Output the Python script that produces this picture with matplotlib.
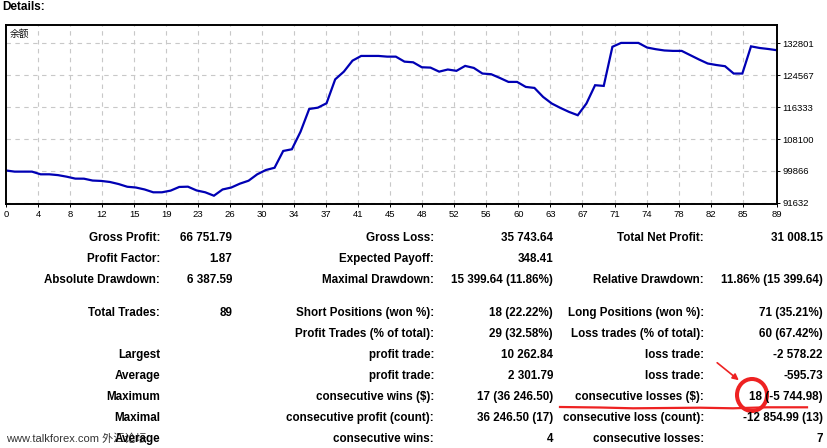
import matplotlib
matplotlib.use("Agg")
import matplotlib.pyplot as plt
from matplotlib.patches import Ellipse, FancyArrowPatch
from matplotlib.lines import Line2D

# ---------------- data ----------------
balance = [100000, 99700, 99700, 99700, 99010, 99010, 98800, 98400, 97900, 97880,
           97400, 97300, 97030, 96500, 95800, 95600, 95100, 94370, 94370, 94800,
           95750, 95820, 94850, 94370, 93490, 95100, 95600, 96600, 97360, 99010,
           100120, 100700, 105030, 105470, 110000, 115860, 116200, 117330, 123500, 125490,
           128330, 129540, 129540, 129540, 129360, 129360, 128070, 127900, 126620, 126530,
           125490, 126040, 125700, 126970, 126450, 125000, 124830, 123870, 122840, 122840,
           121550, 121290, 118970, 117270, 116130, 115100, 114250, 117270, 121990, 121810,
           131900, 132900, 132900, 132900, 131710, 131280, 130950, 130840, 130840, 129730,
           128620, 127590, 127200, 126890, 125000, 125000, 132010, 131590, 131330, 131008]
trades = list(range(len(balance)))

x_tick_labels = ["0", "4", "8", "12", "15", "19", "23", "26", "30", "34", "37", "41", "45",
                 "48", "52", "56", "60", "63", "67", "71", "74", "78", "82", "85", "89"]
y_ticks = [91632, 99866, 108100, 116333, 124567, 132801]

series_label = "余额"
title = "Details:"

col1_labels = ["Gross Profit:", "Profit Factor:", "Absolute Drawdown:", "Total Trades:", "",
               "Largest", "Average", "Maximum", "Maximal", "Average"]
col1_values = ["66 751.79", "1.87", "6 387.59", "89", "", "", "", "", "", ""]
col2_labels = ["Gross Loss:", "Expected Payoff:", "Maximal Drawdown:", "Short Positions (won %):",
               "Profit Trades (% of total):", "profit trade:", "profit trade:",
               "consecutive wins ($):", "consecutive profit (count):", "consecutive wins:"]
col2_values = ["35 743.64", "348.41", "15 399.64 (11.86%)", "18 (22.22%)", "29 (32.58%)",
               "10 262.84", "2 301.79", "17 (36 246.50)", "36 246.50 (17)", "4"]
col3_labels = ["Total Net Profit:", "", "Relative Drawdown:", "Long Positions (won %):",
               "Loss trades (% of total):", "loss trade:", "loss trade:",
               "consecutive losses ($):", "consecutive loss (count):", "consecutive losses:"]
col3_values = ["31 008.15", "", "11.86% (15 399.64)", "71 (35.21%)", "60 (67.42%)",
               "-2 578.22", "-595.73", "18 (-5 744.98)", "-12 854.99 (13)", "7"]
watermark = "www.talkforex.com 外汇论坛"

# ---------------- layout ----------------
W, H = 828, 448
fig = plt.figure(figsize=(W / 100, H / 100), dpi=100)
fig.patch.set_facecolor("white")

def fx(px):
    return px / W

def fy(py):
    return 1 - py / H

ax_left, ax_right, ax_top, ax_bottom = 6, 777, 25, 204
ax = fig.add_axes([fx(ax_left), fy(ax_bottom), (ax_right - ax_left) / W, (ax_bottom - ax_top) / H])
ax.set_facecolor("white")

ax.plot(trades, balance, color="#0000b4", lw=1.6, solid_joinstyle="miter")

step = 3.697
n_inner = len(x_tick_labels) - 2
x_pos = [0] + [step * k for k in range(1, n_inner + 1)] + [trades[-1]]
ax.set_xlim(0, trades[-1])
ax.set_ylim(91352, 137520)

ax.set_xticks(x_pos)
ax.set_xticklabels(x_tick_labels)
ax.set_yticks(y_ticks)
ax.set_yticklabels([str(v) for v in y_ticks])
ax.yaxis.tick_right()

ax.tick_params(axis="both", direction="out", length=2.5, width=0.7, labelsize=6.8,
               colors="black", pad=1.5)
for lab in ax.get_xticklabels() + ax.get_yticklabels():
    lab.set_family("Liberation Sans")

grid_kw = dict(color="#c8c8c8", lw=0.8, linestyle=(0, (4, 4)), zorder=0)
for xp in x_pos[1:-1]:
    ax.axvline(xp, **grid_kw)
for yv in y_ticks:
    ax.axhline(yv, **grid_kw)

for sp in ax.spines.values():
    sp.set_color("black")
    sp.set_linewidth(1.4)

ax.text(0.005, 0.95, series_label, transform=ax.transAxes, ha="left", va="center",
        fontsize=7, family=["Noto Sans CJK SC", "DejaVu Sans"], color="#111111")

# title
fig.text(fx(2), fy(7), title, ha="left", va="center", fontsize=8.5, fontweight="bold",
         family="Liberation Sans")

# table
row_y = [238, 259, 280, 313, 334, 355, 376, 397, 418, 439]
col_x = [160, 232, 434, 553, 704, 823]
columns = [col1_labels, col1_values, col2_labels, col2_values, col3_labels, col3_values]
for ci, col in enumerate(columns):
    for ri, s in enumerate(col):
        if s:
            fig.text(fx(col_x[ci]), fy(row_y[ri]), s, ha="right", va="center",
                     fontsize=8.4, fontweight="bold", family="Liberation Sans", color="black")

# watermark (overlaps the last row label, as in the original screenshot)
fig.text(fx(6), fy(439), watermark, ha="left", va="center", fontsize=8,
         family=["Liberation Sans", "Noto Sans CJK SC"], color="#111111", alpha=0.85)

# red annotations
red = "#ee2222"
ell = Ellipse((fx(752), fy(395)), 30 / W, 32 / H, transform=fig.transFigure,
              fill=False, edgecolor=red, lw=2.9)
fig.add_artist(ell)
arr = FancyArrowPatch((fx(715), fy(361)), (fx(741), fy(382)), transform=fig.transFigure,
                      arrowstyle="-|>", mutation_scale=9, color=red, lw=1.2)
fig.add_artist(arr)
ux = [560, 600, 633, 700, 733, 767, 807]
uy = [407, 407.5, 408.3, 407.7, 408.3, 407.3, 407.3]
fig.add_artist(Line2D([fx(v) for v in ux], [fy(v) for v in uy], transform=fig.transFigure,
                      color=red, lw=1.6))

fig.savefig("out.png", dpi=100)
